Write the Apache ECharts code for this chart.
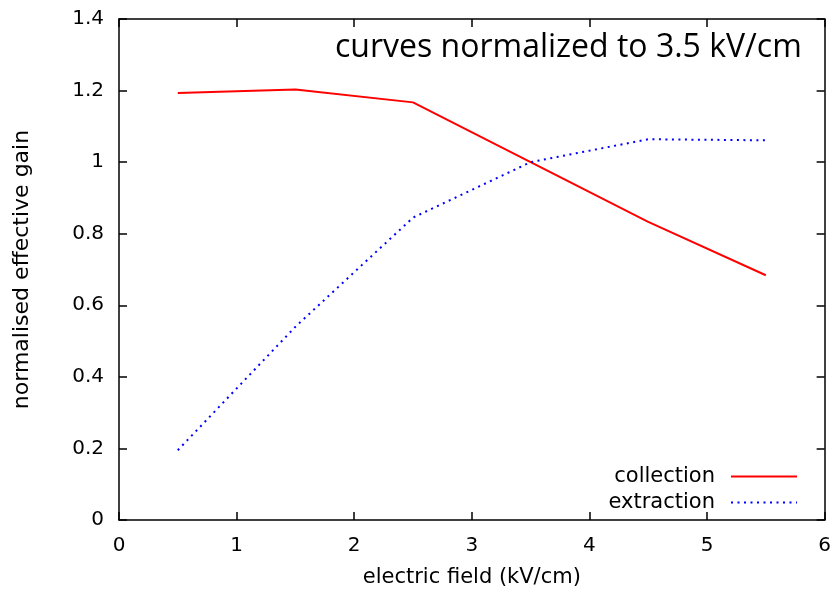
<!DOCTYPE html>
<html><head><meta charset="utf-8">
<script src="https://cdn.jsdelivr.net/npm/echarts@6/dist/echarts.min.js"></script>
<style>html,body{margin:0;padding:0;background:#fff}#c{width:834px;height:595px}</style>
</head><body><div id="c"></div>
<script>
const fieldValues = [0.5, 1.5, 2.5, 3.5, 4.5, 5.5];
const collection = [1.193, 1.203, 1.167, 1.0, 0.833, 0.684];
const extraction = [0.195, 0.540, 0.845, 1.0, 1.064, 1.061];
const seriesNames = ['collection', 'extraction'];
const xTitle = 'electric field (kV/cm)';
const yTitle = 'normalised effective gain';
const note = 'curves normalized to 3.5 kV/cm';

const chart = echarts.init(document.getElementById('c'));
const font = 'DejaVu Sans, Liberation Sans, sans-serif';
function axis(extra) {
  return Object.assign({
    axisLine: {onZero: false, lineStyle: {color: '#000', width: 1.5}},
    axisTick: {inside: true, length: 8, lineStyle: {color: '#000', width: 1.5}},
    axisLabel: {color: '#000', fontSize: 20, fontFamily: font},
    splitLine: {show: false}
  }, extra);
}
chart.setOption({
  animation: false,
  backgroundColor: '#fff',
  grid: {left: 119, right: 8, top: 19, bottom: 75},
  xAxis: [axis({
    type: 'value', min: 0, max: 6, interval: 1, position: 'bottom',
    name: xTitle, nameLocation: 'middle', nameGap: 47,
    nameTextStyle: {color: '#000', fontSize: 21, fontFamily: font},
    axisLabel: {color: '#000', fontSize: 20, fontFamily: font, margin: 16}
  }), axis({
    type: 'value', min: 0, max: 6, interval: 1, position: 'top', axisLabel: {show: false}
  })],
  yAxis: [axis({
    type: 'value', min: 0, max: 1.4, interval: 0.2, position: 'left',
    name: yTitle, nameLocation: 'middle', nameGap: 86,
    nameTextStyle: {color: '#000', fontSize: 22, fontFamily: font},
    axisLabel: {color: '#000', fontSize: 20, fontFamily: font, margin: 15}
  }), axis({
    type: 'value', min: 0, max: 1.4, interval: 0.2, position: 'right', axisLabel: {show: false}
  })],
  legend: {
    orient: 'vertical', right: 31, bottom: 77, align: 'right',
    itemWidth: 66, itemHeight: 20, itemGap: 5,
    itemStyle: {opacity: 0},
    textStyle: {color: '#000', fontSize: 21, fontFamily: font, lineHeight: 20, padding: [0, 11, 0, 0]},
    data: seriesNames
  },
  graphic: [{
    type: 'text', left: 335, top: 32,
    style: {text: note, fill: '#000', fontSize: 32, fontFamily: 'Open Sans, sans-serif'}
  }],
  series: [{
    name: seriesNames[0], type: 'line', symbol: 'none',
    data: fieldValues.map((x, i) => [x, collection[i]]),
    lineStyle: {color: '#ff0000', width: 2}, itemStyle: {color: '#ff0000'}
  }, {
    name: seriesNames[1], type: 'line', symbol: 'none',
    data: fieldValues.map((x, i) => [x, extraction[i]]),
    lineStyle: {color: '#0000ff', width: 2, type: [2, 4.5]}, itemStyle: {color: '#0000ff'}
  }]
});
</script></body></html>
